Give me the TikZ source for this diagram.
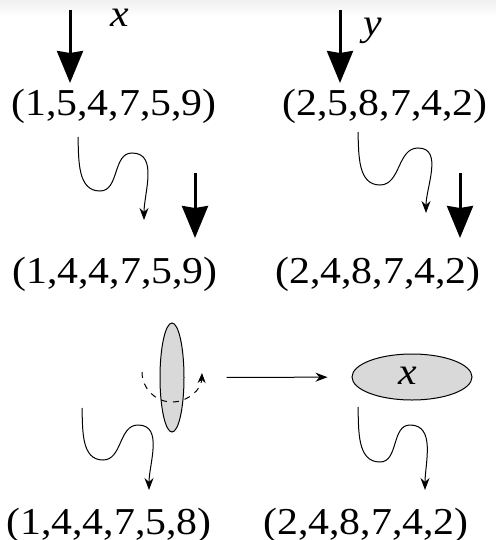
\documentclass[tikz,border=0pt]{standalone}
\usepackage{fontspec}
\setmainfont{Liberation Serif}
\usepackage{tikz}
\usetikzlibrary{arrows.meta,positioning,shapes.geometric}
\newcommand{\tuplefont}{\fontsize{19}{22}\selectfont}
\newcommand{\wide}[1]{\scalebox{1.1}[1]{#1}}
\tikzset{
  tuple/.style={
    font=\tuplefont,
    inner sep=0pt,
    anchor=base
  },
  blob/.style={
    ellipse,
    draw,
    line width=0.5pt,
    fill=gray!30,
    inner sep=0pt
  },
  bigarrow/.style={-{Stealth[length=16pt,width=13pt,inset=1pt]},line width=1.5pt},
  wavearrow/.style={-{Stealth[length=6pt,width=4.5pt]},line width=0.5pt},
  turnarrow/.style={-{Stealth[length=5pt,width=4pt]},line width=0.5pt,dashed}
}

\begin{document}
\begin{tikzpicture}[x=0.5pt,y=-0.5pt]
  \useasboundingbox (0,0) rectangle (496,540);
  \shade[top color=gray!12, bottom color=white, draw=none] (0,0) rectangle (496,16);
  \node[tuple] (inx) at (120,27) {\wide{\textit{x}}};
  \node[tuple] (iny) at (373,36) {\wide{\textit{y}}};
  \node[tuple] (xa) at (114,115) {\wide{(1,5,4,7,5,9)}};
  \node[tuple] (ya) at (385,115) {\wide{(2,5,8,7,4,2)}};
  \node[tuple] (xb) at (115,283) {\wide{(1,4,4,7,5,9)}};
  \node[tuple] (yb) at (378,283) {\wide{(2,4,8,7,4,2)}};
  \node[tuple] (xc) at (109,534) {\wide{(1,4,4,7,5,8)}};
  \node[tuple] (yc) at (366,534) {\wide{(2,4,8,7,4,2)}};
  \node[blob, minimum width=12pt, minimum height=54.5pt] (fold) at (172,377.5) {};
  \node[blob, minimum width=60pt, minimum height=23pt] (merged) at (412,377) {};
  \node[tuple] (mx) at (408,384) {\wide{\textit{x}}};
  \coordinate (xin) at (70,10);
  \coordinate (xinend) at (70,83);
  \coordinate (yin) at (340,10);
  \coordinate (yinend) at (340,83);
  \coordinate (xbin) at (195,173);
  \coordinate (xbinend) at (195,238);
  \coordinate (ybin) at (460,173);
  \coordinate (ybinend) at (460,238);
  \draw[bigarrow] (xin) -- (xinend);
  \draw[bigarrow] (yin) -- (yinend);
  \draw[bigarrow] (xbin) -- (xbinend);
  \draw[bigarrow] (ybin) -- (ybinend);
  \draw[wavearrow] (78,137) to[out=-88,in=180] (100,191) to[out=0,in=180] (132,153) to[out=0,in=90] (144,220);
  \draw[wavearrow] (358,132) to[out=-88,in=180] (380,185) to[out=0,in=180] (418,148) to[out=0,in=90] (426,213);
  \draw[wavearrow] (82,408) to[out=-88,in=180] (103,460) to[out=0,in=180] (138,425) to[out=0,in=90] (149,490);
  \draw[wavearrow] (358,407) to[out=-88,in=180] (380,462) to[out=0,in=180] (410,425) to[out=0,in=90] (425,490);
  \draw[turnarrow] (142,372) arc[start angle=180,end angle=2,radius=30];
  \draw[wavearrow, shorten <=21pt, shorten >=12pt] (fold) -- (merged);
\end{tikzpicture}
\end{document}
